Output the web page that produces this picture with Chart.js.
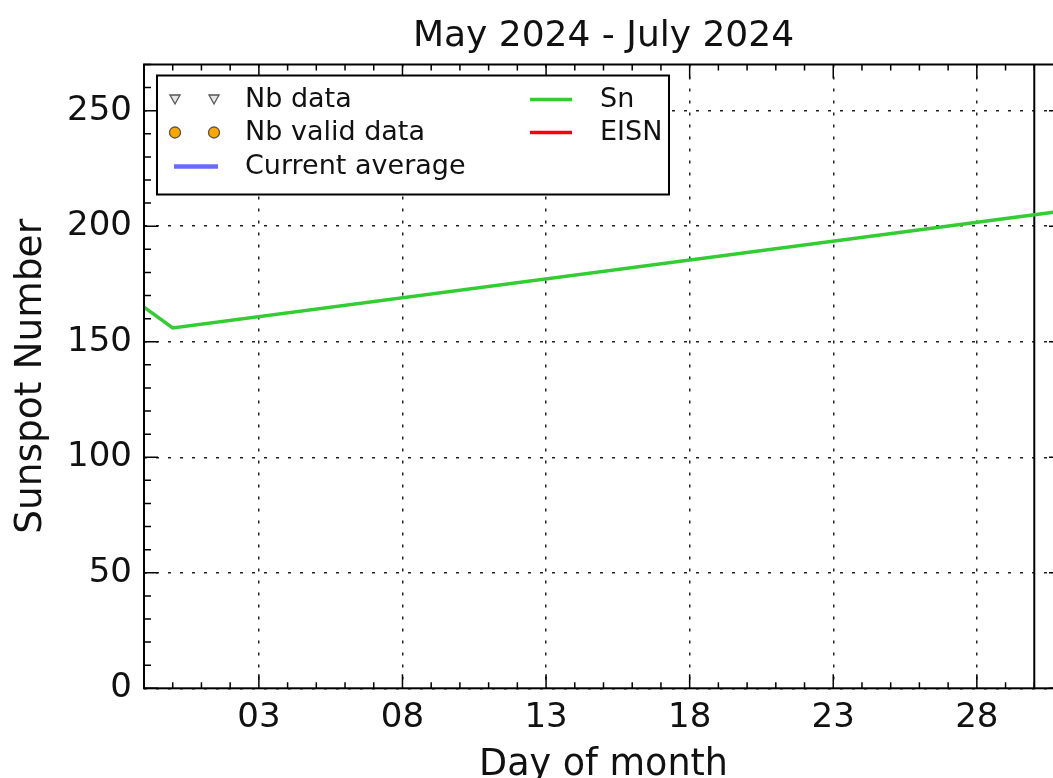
<!DOCTYPE html>
<html>
<head>
<meta charset="utf-8">
<script src="https://cdn.jsdelivr.net/npm/chart.js@4/dist/chart.umd.min.js"></script>
<style>
  html, body { margin: 0; padding: 0; background: #fff; overflow: hidden; }
  #wrap { width: 1053px; height: 778px; overflow: hidden; position: relative; }
  canvas { display: block; }
</style>
</head>
<body>
<div id="wrap"><canvas id="c" width="1075" height="800"></canvas></div>
<script>
const FONT = "'DejaVu Sans', 'Liberation Sans', sans-serif";

// Labels
const titleText = 'May 2024 - July 2024';
const xTitle = 'Day of month';
const yTitle = 'Sunspot Number';

// Axis ticks
const dayTicks = [3, 8, 13, 18, 23, 28];
const dayTickLabels = ['03', '08', '13', '18', '23', '28'];
const snTicks = [0, 50, 100, 150, 200, 250];
const snTickLabels = ['0', '50', '100', '150', '200', '250'];
const xRange = [-1, 31];
const yRange = [0, 270];

// Series
const snDays = [-1, 0, 30, 31];
const snValues = [165, 156, 205, 206.6];
const nbDays = [];
const nbValues = [];
const nbValidDays = [];
const nbValidValues = [];
const avgDays = [];
const avgValues = [];
const eisnDays = [];
const eisnValues = [];

// Current-day marker
const markerDays = [30, 30];
const markerValues = [0, 270];

const toPoints = (xs, ys) => xs.map((x, i) => ({ x: x, y: ys[i] }));

// Legend drawn inside the plot, two columns like the original figure
const legendPlugin = {
  id: 'boxLegend',
  afterDraw(chart) {
    const ctx = chart.ctx;
    const ca = chart.chartArea;
    const bx = ca.left + 13, by = ca.top + 11, bw = 512, bh = 119;
    ctx.save();
    ctx.fillStyle = '#fff';
    ctx.fillRect(bx, by, bw, bh);
    ctx.strokeStyle = '#000';
    ctx.lineWidth = 2;
    ctx.strokeRect(bx, by, bw, bh);

    const rows = [24, 57, 91];
    const cols = [{ h0: 17, h1: 61, t: 88 }, { h0: 373, h1: 415, t: 443 }];
    const items = chart.data.datasets.filter(d => d.legendSlot !== undefined);
    items.forEach(d => {
      const col = cols[d.legendSlot[0]];
      const y = by + rows[d.legendSlot[1]];
      const x0 = bx + col.h0, x1 = bx + col.h1;
      if (d.legendKind === 'line') {
        ctx.strokeStyle = d.borderColor;
        ctx.lineWidth = d.legendWidth;
        ctx.beginPath();
        ctx.moveTo(x0, y);
        ctx.lineTo(x1, y);
        ctx.stroke();
      } else {
        [x0 + 1, x1 - 4].forEach(mx => {
          ctx.fillStyle = d.pointBackgroundColor;
          ctx.strokeStyle = d.pointBorderColor;
          ctx.lineWidth = 1.3;
          ctx.beginPath();
          if (d.legendKind === 'triangle') {
            ctx.moveTo(mx - 5, y - 4.5);
            ctx.lineTo(mx + 5, y - 4.5);
            ctx.lineTo(mx, y + 4.5);
            ctx.closePath();
          } else {
            ctx.arc(mx, y, 5.5, 0, Math.PI * 2);
          }
          ctx.fill();
          ctx.stroke();
        });
      }
      ctx.fillStyle = '#111';
      ctx.font = '27px ' + FONT;
      ctx.textAlign = 'left';
      ctx.textBaseline = 'middle';
      ctx.fillText(d.label, bx + col.t, y);
    });
    ctx.restore();
  }
};

// Axis frame with inward major/minor ticks on every side
const framePlugin = {
  id: 'frameTicks',
  afterDatasetsDraw(chart) {
    const ctx = chart.ctx;
    const ca = chart.chartArea;
    const xs = chart.scales.x, ys = chart.scales.y;
    ctx.save();
    ctx.strokeStyle = '#000';
    ctx.lineWidth = 2;
    ctx.strokeRect(ca.left, ca.top, ca.right - ca.left, ca.bottom - ca.top);
    ctx.lineWidth = 1.5;
    ctx.beginPath();
    for (let d = xRange[0]; d <= xRange[1]; d++) {
      const px = xs.getPixelForValue(d);
      const len = dayTicks.includes(d) ? 14 : 6;
      ctx.moveTo(px, ca.bottom); ctx.lineTo(px, ca.bottom - len);
      ctx.moveTo(px, ca.top); ctx.lineTo(px, ca.top + len);
    }
    for (let v = yRange[0]; v <= yRange[1]; v += 10) {
      const py = ys.getPixelForValue(v);
      const len = snTicks.includes(v) ? 14 : 7;
      ctx.moveTo(ca.left, py); ctx.lineTo(ca.left + len, py);
      ctx.moveTo(ca.right, py); ctx.lineTo(ca.right - len, py);
    }
    ctx.stroke();
    ctx.restore();
  }
};

new Chart(document.getElementById('c'), {
  type: 'scatter',
  data: {
    datasets: [
      {
        label: 'Nb data', data: toPoints(nbDays, nbValues), showLine: false,
        pointStyle: 'triangle', rotation: 180, pointRadius: 4,
        pointBackgroundColor: '#e6e6e6', pointBorderColor: '#555',
        legendKind: 'triangle', legendSlot: [0, 0]
      },
      {
        label: 'Nb valid data', data: toPoints(nbValidDays, nbValidValues), showLine: false,
        pointRadius: 5, pointBackgroundColor: '#ffa500', pointBorderColor: '#555',
        legendKind: 'circle', legendSlot: [0, 1]
      },
      {
        label: 'Current average', data: toPoints(avgDays, avgValues), showLine: true,
        borderColor: '#6a6aff', borderWidth: 4, pointRadius: 0,
        legendKind: 'line', legendWidth: 4.5, legendSlot: [0, 2]
      },
      {
        label: 'Sn', data: toPoints(snDays, snValues), showLine: true,
        borderColor: '#33cc33', borderWidth: 3.5, pointRadius: 0, tension: 0,
        legendKind: 'line', legendWidth: 3.5, legendSlot: [1, 0]
      },
      {
        label: 'EISN', data: toPoints(eisnDays, eisnValues), showLine: true,
        borderColor: '#ff0000', borderWidth: 3.5, pointRadius: 0,
        legendKind: 'line', legendWidth: 3.5, legendSlot: [1, 1]
      },
      {
        label: 'today', data: toPoints(markerDays, markerValues), showLine: true,
        borderColor: '#000', borderWidth: 2, pointRadius: 0
      }
    ]
  },
  options: {
    responsive: false,
    animation: false,
    events: [],
    layout: { padding: { left: 0, right: 12, top: 0, bottom: 0 } },
    plugins: {
      legend: { display: false },
      tooltip: { enabled: false },
      title: {
        display: true, fullSize: false, text: titleText, color: '#111',
        font: { family: FONT, size: 36, weight: 'normal', lineHeight: 1.2 },
        padding: { top: 15.5, bottom: 5.8 }
      }
    },
    scales: {
      x: {
        type: 'linear', min: xRange[0], max: xRange[1],
        afterBuildTicks: s => { s.ticks = dayTicks.map(v => ({ value: v })); },
        afterFit: s => { s.height = 111.7; },
        ticks: {
          autoSkip: false, maxRotation: 0, padding: 9.2, color: '#111',
          font: { family: FONT, size: 34, lineHeight: 1.2 },
          callback: v => dayTickLabels[dayTicks.indexOf(v)]
        },
        grid: { color: '#222', lineWidth: 1.5, drawTicks: false },
        border: { display: false, dash: [3, 9] },
        title: {
          display: true, text: xTitle, color: '#111',
          font: { family: FONT, size: 36.5, lineHeight: 1.2 },
          padding: { top: 0, bottom: 12.1 }
        }
      },
      y: {
        type: 'linear', min: yRange[0], max: yRange[1],
        afterBuildTicks: s => { s.ticks = snTicks.map(v => ({ value: v })); },
        afterFit: s => { s.width = 144; },
        ticks: {
          autoSkip: false, padding: 12, color: '#111',
          font: { family: FONT, size: 34, lineHeight: 1.2 },
          callback: v => snTickLabels[snTicks.indexOf(v)]
        },
        grid: { color: '#222', lineWidth: 1.5, drawTicks: false },
        border: { display: false, dash: [3, 9] },
        title: {
          display: true, text: yTitle, color: '#111',
          font: { family: FONT, size: 37.5, lineHeight: 1.2 },
          padding: { top: 8.9, bottom: 0 }
        }
      }
    }
  },
  plugins: [framePlugin, legendPlugin]
});
</script>
</body>
</html>
